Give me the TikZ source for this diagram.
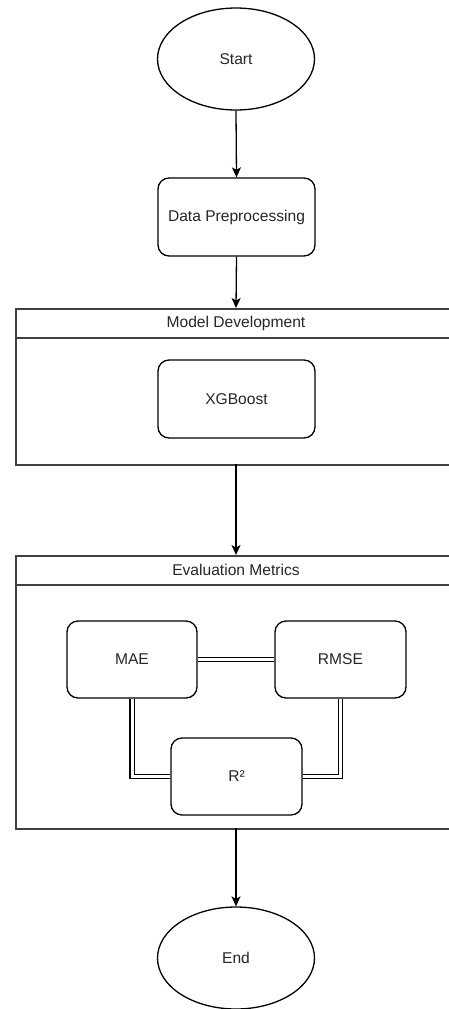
\documentclass[tikz,border=0pt]{standalone}
\usepackage{fontspec}
\setmainfont{Liberation Sans}
\usetikzlibrary{shapes.geometric,arrows.meta}
\tikzset{
  base/.style={draw=black, line width=1.3pt, text=black!85, font=\fontsize{15.6}{18}\selectfont, inner sep=0pt},
  term/.style={base, ellipse, minimum width=157pt, minimum height=102pt},
  proc/.style={base, rectangle, rounded corners=11pt, minimum height=78pt},
  lane/.style={draw=black!75, line width=1.8pt, rectangle, minimum width=442pt, anchor=north west, inner sep=0pt},
  lanetitle/.style={text=black!85, font=\fontsize{15.6}{18}\selectfont, inner sep=0pt},
  flow/.style={draw=black, line width=1.3pt, -{Stealth[length=10pt,width=9pt,inset=2.5pt]}},
  link/.style={draw=black, line width=1.2pt, double=white, double distance=3pt}
}
\begin{document}
\begin{tikzpicture}[x=1pt,y=-1pt]
\clip (0,0) rectangle (449,1009);
\fill[white] (0,0) rectangle (449,1009);

\node[term] (start) at (236,59) {Start};
\node[proc, minimum width=157pt] (prep) at (236.5,217) {Data Preprocessing};

\node[lane, minimum height=156pt] (model) at (15,308) {};
\coordinate (mhl) at (15,338);
\coordinate (mhr) at (457,338);
\draw[draw=black!75, line width=1.8pt] (mhl) -- (mhr);
\node[lanetitle] (modelt) at (236,323) {Model Development};
\node[proc, minimum width=157pt] (xgb) at (236.5,399) {XGBoost};

\node[lane, minimum height=273pt] (eval) at (15,555) {};
\coordinate (ehl) at (15,585);
\coordinate (ehr) at (457,585);
\draw[draw=black!75, line width=1.8pt] (ehl) -- (ehr);
\node[lanetitle] (evalt) at (236,570) {Evaluation Metrics};

\node[proc, minimum width=130pt, minimum height=77pt] (mae) at (132,659.5) {MAE};
\node[proc, minimum width=131pt, minimum height=77pt] (rmse) at (340.5,659.5) {RMSE};
\node[proc, minimum width=131pt, minimum height=77pt] (r2) at (236.5,776.5) {R²};

\node[term] (end) at (236,958) {End};

\draw[flow] (start.south) -- (prep.north);
\coordinate (mtop) at (236,308);
\coordinate (mbot) at (236,464);
\coordinate (etop) at (236,555);
\coordinate (ebot) at (236,828);
\draw[flow] (prep.south) -- (mtop);
\draw[flow] (mbot) -- (etop);
\draw[flow] (ebot) -- (end.north);

\draw[link] (mae.east) -- (rmse.west);
\draw[link] (mae.south) |- (r2.west);
\draw[link] (rmse.south) |- (r2.east);
\end{tikzpicture}
\end{document}
